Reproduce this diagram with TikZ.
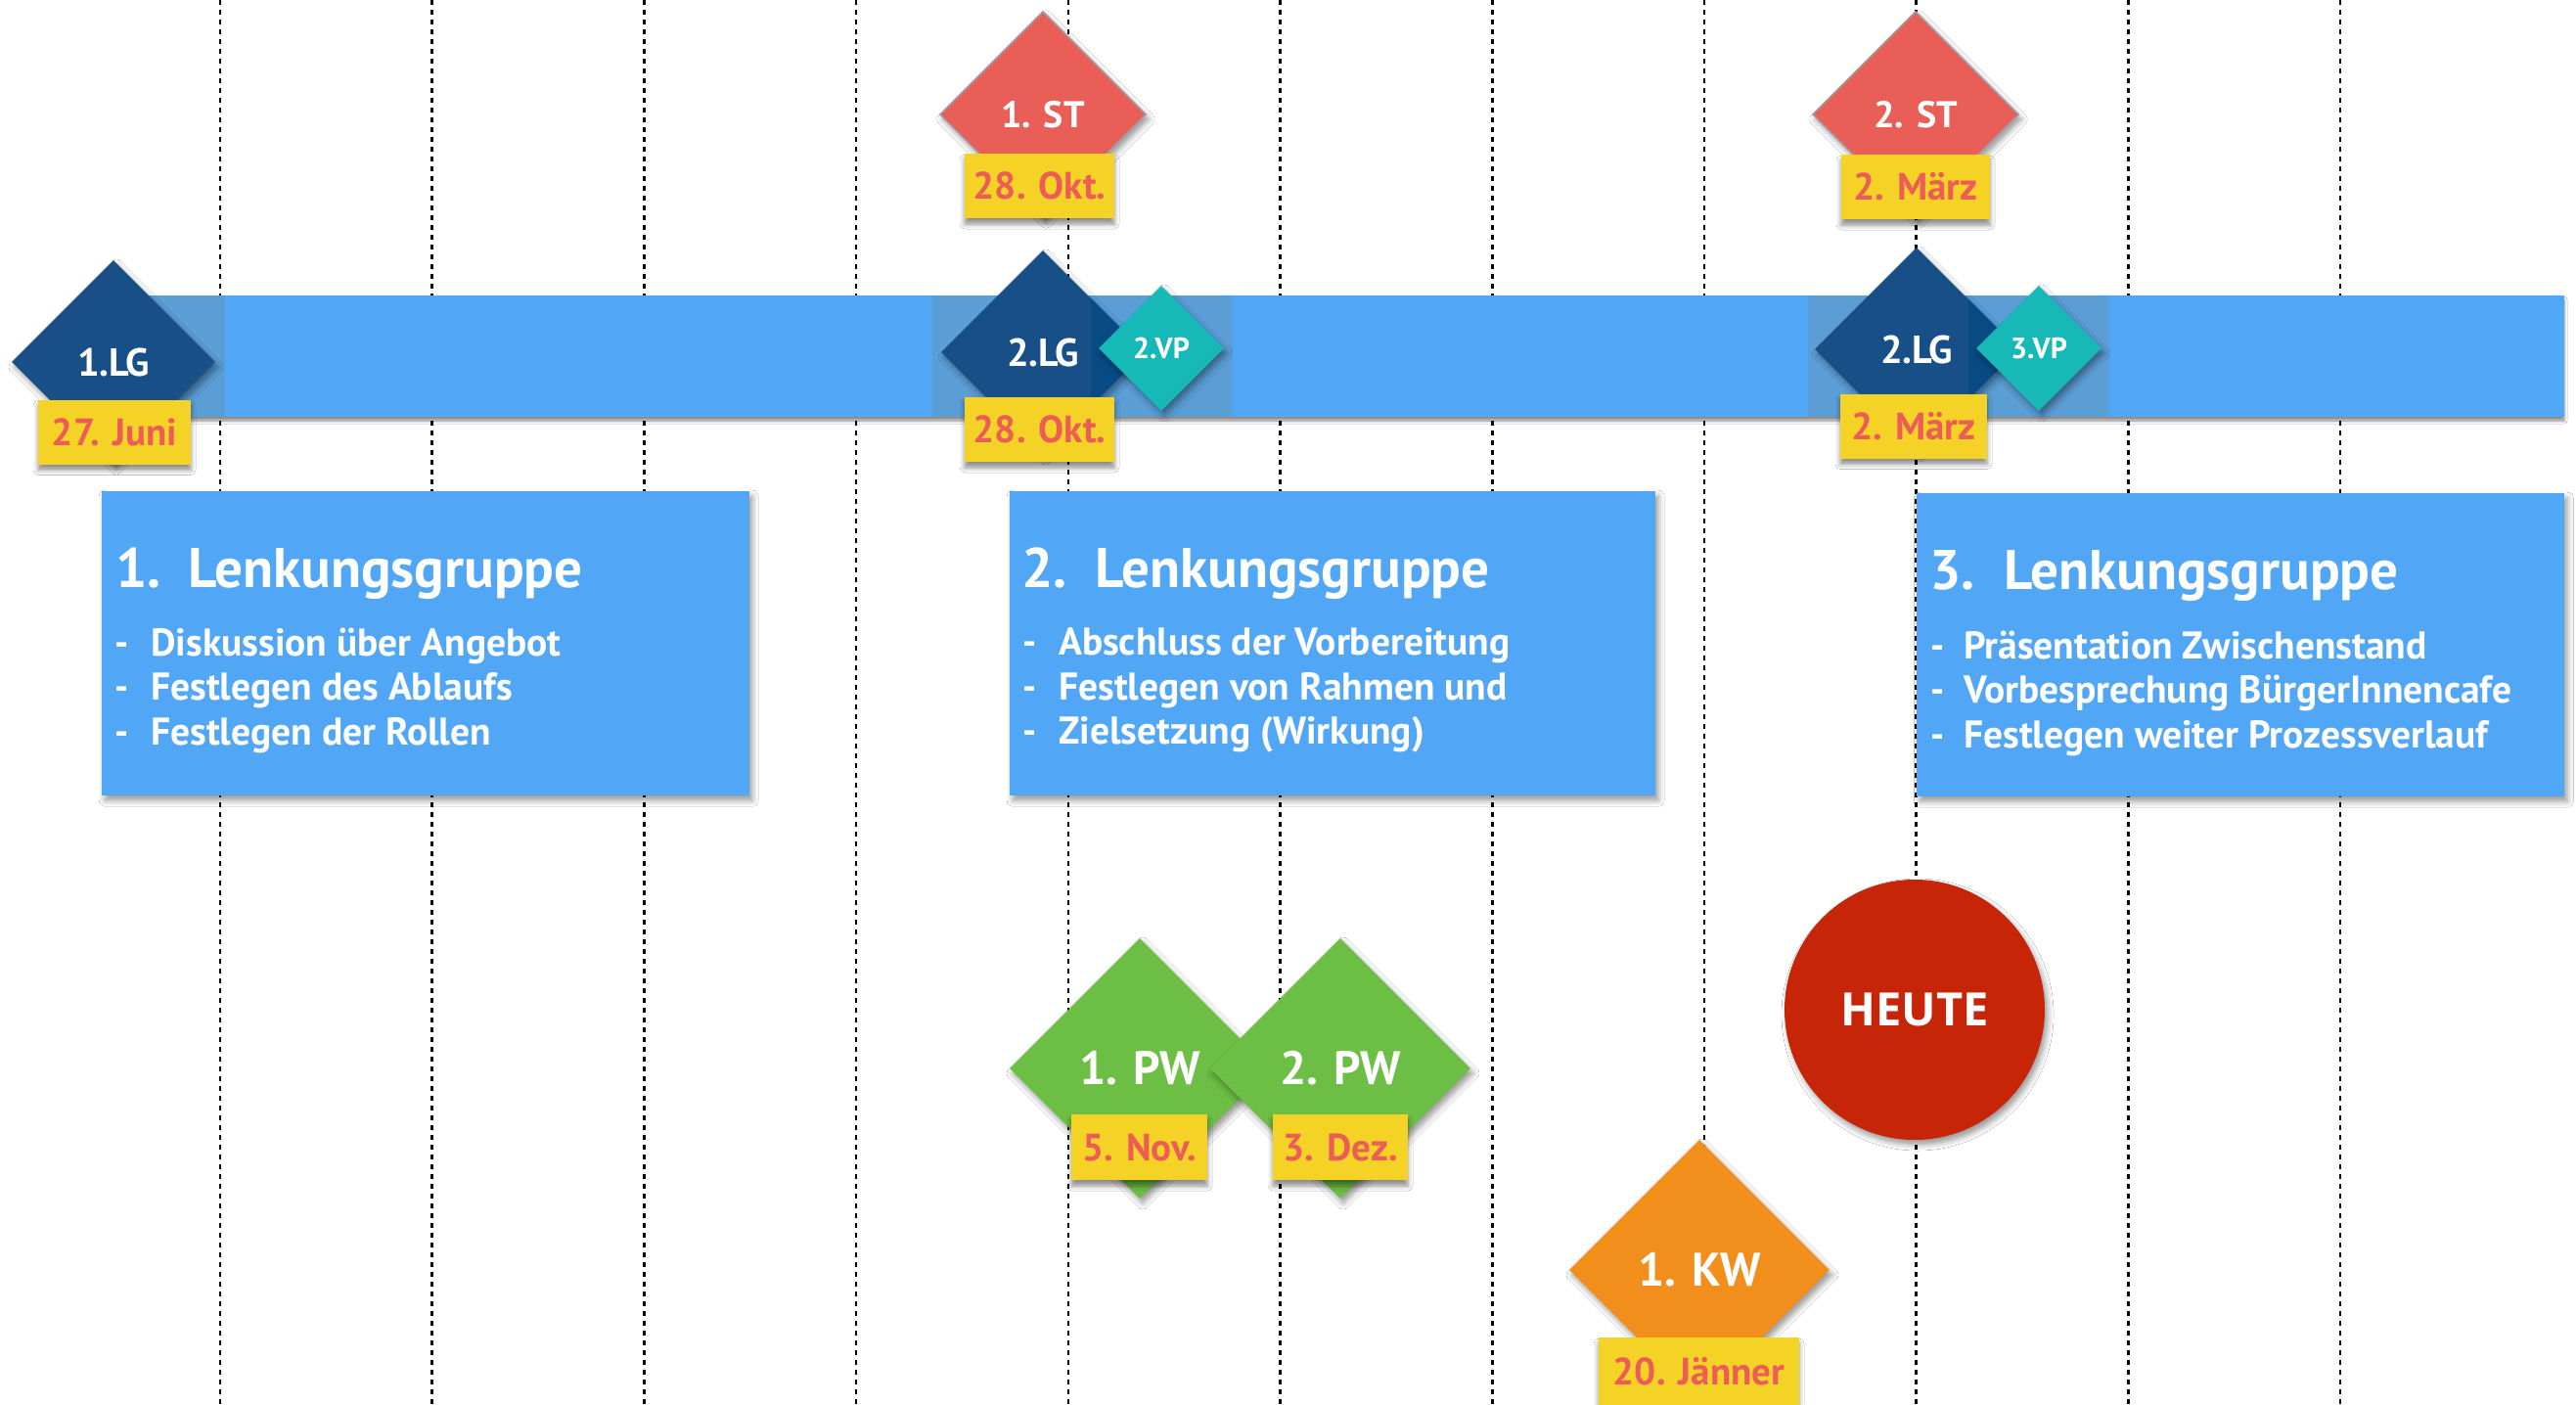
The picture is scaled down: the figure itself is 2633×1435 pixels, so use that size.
\documentclass[tikz,border=0pt]{standalone}
\usepackage{fontspec}
\setmainfont{PT Sans}
\newfontfamily\dinfont{PT Sans}
\newfontfamily\heutefont{Open Sans}
\usetikzlibrary{shapes.geometric,shadows.blur}
\definecolor{bandblue}{RGB}{82,166,246}
\definecolor{patchblue}{RGB}{91,158,214}
\definecolor{navy}{RGB}{23,79,134}
\definecolor{navydark}{RGB}{8,74,132}
\definecolor{teal}{RGB}{23,184,184}
\definecolor{stred}{RGB}{234,94,88}
\definecolor{stborder}{RGB}{160,160,160}
\definecolor{dateyellow}{RGB}{245,210,38}
\definecolor{datered}{RGB}{236,93,87}
\definecolor{pwgreen}{RGB}{109,190,69}
\definecolor{kworange}{RGB}{241,142,28}
\definecolor{heutered}{RGB}{199,37,8}
\begin{document}
\begin{tikzpicture}[x=1pt,y=-1pt,
  vline/.style={black,line width=2.6pt,dash pattern=on 5pt off 5pt},
  sh/.style={blur shadow={shadow xshift=3pt,shadow yshift=-5pt,shadow blur radius=6pt,shadow opacity=40}},
  shs/.style={blur shadow={shadow xshift=0pt,shadow yshift=-6pt,shadow blur radius=5pt,shadow opacity=45}},
  infobox/.style={fill=bandblue,inner sep=0pt,anchor=north west,sh},
  titletext/.style={anchor=base west,inner sep=0pt,text=white,font=\dinfont\bfseries\fontsize{57}{64}\selectfont},
  bullettext/.style={anchor=base west,inner sep=0pt,text=white,font=\dinfont\bfseries\fontsize{39.5}{44}\selectfont},
  dia/.style={diamond,aspect=1,inner sep=0pt,text=white,sh},
  lgdia/.style={dia,fill=navy,minimum width=208pt,minimum height=208pt,font=\dinfont\bfseries\fontsize{40}{44}\selectfont},
  vpdia/.style={dia,fill=teal,minimum width=128pt,minimum height=128pt,font=\dinfont\bfseries\fontsize{30}{34}\selectfont},
  stdia/.style={dia,fill=stred,draw=stborder,line width=1.5pt,minimum width=211pt,minimum height=211pt,font=\dinfont\bfseries\fontsize{38}{42}\selectfont},
  pwdia/.style={dia,fill=pwgreen,minimum width=266pt,minimum height=266pt,font=\dinfont\bfseries\fontsize{48}{52}\selectfont},
  kwdia/.style={dia,fill=kworange,minimum width=266pt,minimum height=266pt,font=\dinfont\bfseries\fontsize{48}{52}\selectfont},
  datebox/.style={fill=dateyellow,text=datered,inner sep=0pt,minimum height=66pt,text height=27pt,text depth=0pt,shs,font=\dinfont\bfseries\fontsize{39}{44}\selectfont},
]
\useasboundingbox (0,0) rectangle (2633,1435);
\fill[white] (0,0) rectangle (2633,1435);

% dashed grid lines
\foreach \i in {0,...,10}{
  \draw[vline] ({225+216.7*\i},0) -- ({225+216.7*\i},1435);
}

% timeline band
\path[fill=bandblue,blur shadow={shadow xshift=0pt,shadow yshift=-4pt,shadow blur radius=3pt,shadow opacity=45}] (150,302) rectangle (2621,426);
\fill[patchblue] (150,302) rectangle (230,426);
\fill[patchblue] (953,302) rectangle (1260,426);
\fill[patchblue] (1848,302) rectangle (2156,426);

% info boxes
\node[infobox,minimum width=662pt,minimum height=311pt] (box1) at (104,502) {};
\node[infobox,minimum width=660pt,minimum height=311pt] (box2) at (1032,502) {};
\node[infobox,minimum width=662pt,minimum height=310pt] (box3) at (1959,504) {};

\node[titletext] (t1n) at (118,600) {1.};
\node[titletext] (t1) at (192,600) {Lenkungsgruppe};
\node[bullettext] (b11d) at (117,670) {-};
\node[bullettext] (b11) at (154,670) {Diskussion über Angebot};
\node[bullettext] (b12d) at (117,715.5) {-};
\node[bullettext] (b12) at (154,715.5) {Festlegen des Ablaufs};
\node[bullettext] (b13d) at (117,761) {-};
\node[bullettext] (b13) at (154,761) {Festlegen der Rollen};

\node[titletext] (t2n) at (1044,600) {2.};
\node[titletext] (t2) at (1119,600) {Lenkungsgruppe};
\node[bullettext] (b21d) at (1045,669) {-};
\node[bullettext] (b21) at (1082,669) {Abschluss der Vorbereitung};
\node[bullettext] (b22d) at (1045,715) {-};
\node[bullettext] (b22) at (1082,715) {Festlegen von Rahmen und};
\node[bullettext] (b23d) at (1045,760) {-};
\node[bullettext] (b23) at (1082,760) {Zielsetzung (Wirkung)};

\node[titletext] (t3n) at (1972,602) {3.};
\node[titletext] (t3) at (2048,602) {Lenkungsgruppe};
\node[bullettext] (b31d) at (1973,673) {-};
\node[bullettext] (b31) at (2007,673) {Präsentation Zwischenstand};
\node[bullettext] (b32d) at (1973,718) {-};
\node[bullettext] (b32) at (2007,718) {Vorbesprechung BürgerInnencafe};
\node[bullettext] (b33d) at (1973,764) {-};
\node[bullettext] (b33) at (2007,764) {Festlegen weiter Prozessverlauf};

% 1. LG
\node[lgdia] (lg1) at (116,370) {1.LG};
\node[datebox,minimum width=156pt] (dlg1) at (117,441.5) {27. Juni};

% 2. LG + 2.VP
\node[lgdia] (lg2) at (1066,360) {2.LG};
\begin{scope}
  \clip (lg2.north) -- (lg2.east) -- (lg2.south) -- (lg2.west) -- cycle;
  \fill[navydark] (1115,240) rectangle (1180,480);
\end{scope}
\node[vpdia] (vp2) at (1187,356) {2.VP};
\node[datebox,minimum width=153pt] (dlg2) at (1062.5,439) {28. Okt.};

% 1. ST
\node[stdia] (st1) at (1066,117) {1. ST};
\node[datebox,minimum width=153pt] (dst1) at (1062.5,190) {28. Okt.};

% 2. ST
\node[stdia] (st2) at (1958,117) {2. ST};
\node[datebox,minimum width=152pt] (dst2) at (1958,191) {2. März};

% third LG + 3.VP
\node[lgdia] (lg3) at (1959,357) {2.LG};
\begin{scope}
  \clip (lg3.north) -- (lg3.east) -- (lg3.south) -- (lg3.west) -- cycle;
  \fill[navydark] (2012,240) rectangle (2080,480);
\end{scope}
\node[vpdia] (vp3) at (2084,356) {3.VP};
\node[datebox,minimum width=150pt] (dlg3) at (1956,435.5) {2. März};

% PW diamonds
\node[pwdia] (pw1) at (1165,1092) {1. PW};
\node[pwdia] (pw2) at (1370,1092) {2. PW};
\node[datebox,minimum width=139pt,minimum height=67pt] (dpw1) at (1164.5,1172.5) {5. Nov.};
\node[datebox,minimum width=138pt,minimum height=67pt] (dpw2) at (1370,1172.5) {3. Dez.};

% KW diamond
\node[kwdia] (kw1) at (1737,1298) {1. KW};
\node[datebox,minimum width=205pt,minimum height=70pt] (dkw1) at (1736.5,1402) {20. Jänner};

% HEUTE
\node[circle,fill=heutered,minimum size=266pt,inner sep=0pt,text=white,sh,font=\heutefont\bfseries\fontsize{47}{50}\selectfont] (heute) at (1957,1032) {HEUTE};
\end{tikzpicture}
\end{document}
